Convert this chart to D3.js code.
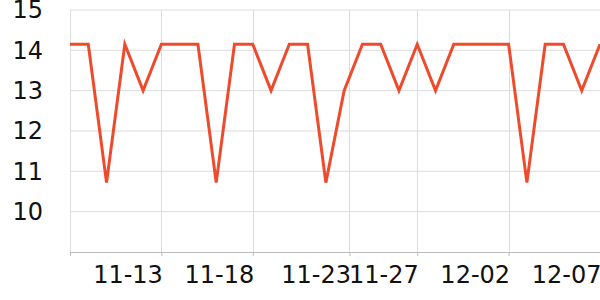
<!DOCTYPE html>
<html>
<head>
<meta charset="utf-8">
<script src="https://cdn.jsdelivr.net/npm/d3@7"></script>
<style>
  body { margin: 0; background: #fff; }
  svg { display: block; font-family: "DejaVu Sans", sans-serif; }
</style>
</head>
<body>
<div id="chart"></div>
<script>
var dates = ["2023-11-08", "2023-11-09", "2023-11-10", "2023-11-11", "2023-11-12",
             "2023-11-13", "2023-11-14", "2023-11-15", "2023-11-16", "2023-11-17",
             "2023-11-18", "2023-11-19", "2023-11-20", "2023-11-21", "2023-11-22",
             "2023-11-23", "2023-11-24", "2023-11-25", "2023-11-26", "2023-11-27",
             "2023-11-28", "2023-11-29", "2023-11-30", "2023-12-01", "2023-12-02",
             "2023-12-03", "2023-12-04", "2023-12-05", "2023-12-06", "2023-12-07"];
var values = [14.15, 14.15, 10.72, 14.15, 13.0, 14.15, 14.15, 14.15, 10.72, 14.15,
              14.15, 13.0, 14.15, 14.15, 10.72, 13.0, 14.15, 14.15, 13.0, 14.15,
              13.0, 14.15, 14.15, 14.15, 14.15, 10.72, 14.15, 14.15, 13.0, 14.15];
var xTicks = ["2023-11-13T00:00Z", "2023-11-18T00:00Z", "2023-11-23T07:00Z",
              "2023-11-27T00:00Z", "2023-12-02T00:00Z", "2023-12-07T00:00Z"];
var yTicks = [10, 11, 12, 13, 14, 15];

var margin = { top: 10, right: 0, bottom: 48, left: 70 },
    width = 600 - margin.left - margin.right,
    height = 300 - margin.top - margin.bottom;

var parseDate = d3.utcParse("%Y-%m-%d");
var data = dates.map(function (d, i) { return { date: parseDate(d), value: values[i] }; });

var svg = d3.select("#chart")
    .append("svg")
    .attr("width", 600)
    .attr("height", 300)
    .append("g")
    .attr("transform", "translate(" + margin.left + "," + margin.top + ")");

var x = d3.scaleUtc()
    .domain(d3.extent(data, function (d) { return d.date; }))
    .range([0, width]);

var y = d3.scaleLinear()
    .domain([9, 15])
    .range([height, 0]);

// horizontal grid
svg.append("g")
    .selectAll("line")
    .data(yTicks)
    .enter()
    .append("line")
    .attr("x1", 0)
    .attr("x2", width)
    .attr("y1", function (d) { return y(d); })
    .attr("y2", function (d) { return y(d); })
    .attr("stroke", "#dcdcdc")
    .attr("stroke-width", 1);

// vertical grid (left edge + ticks)
var tickDates = xTicks.map(function (d) { return d3.isoParse(d); });
svg.append("g")
    .selectAll("line")
    .data([x.domain()[0]].concat(tickDates))
    .enter()
    .append("line")
    .attr("x1", function (d) { return Math.round(x(d)) + 0.5; })
    .attr("x2", function (d) { return Math.round(x(d)) + 0.5; })
    .attr("y1", 0)
    .attr("y2", height)
    .attr("stroke", "#dcdcdc")
    .attr("stroke-width", 1);

// y labels
svg.append("g")
    .selectAll("text")
    .data(yTicks)
    .enter()
    .append("text")
    .attr("x", -27)
    .attr("y", function (d) { return y(d); })
    .attr("dy", "0.35em")
    .attr("text-anchor", "end")
    .attr("font-size", "24px")
    .attr("fill", "#111")
    .text(function (d) { return d; });

// x axis
var xAxis = svg.append("g")
    .attr("transform", "translate(0," + height + ")")
    .call(d3.axisBottom(x)
        .tickValues([x.domain()[0]].concat(tickDates))
        .tickSize(4)
        .tickFormat(function (d, i) { return i === 0 ? "" : d3.utcFormat("%m-%d")(d); }));
xAxis.select(".domain").attr("stroke", "#bdbdbd");
xAxis.selectAll(".tick line").attr("stroke", "#bdbdbd");
xAxis.selectAll(".tick text")
    .attr("text-anchor", "end")
    .attr("x", 1)
    .attr("y", 31)
    .attr("dy", 0)
    .attr("font-size", "24px")
    .attr("font-family", "DejaVu Sans, sans-serif")
    .attr("fill", "#111");

// line
var line = d3.line()
    .x(function (d) { return x(d.date); })
    .y(function (d) { return y(d.value); });

svg.append("path")
    .datum(data)
    .attr("fill", "none")
    .attr("stroke", "#ee4a2c")
    .attr("stroke-width", 3)
    .attr("stroke-linejoin", "miter")
    .attr("d", line);
</script>
</body>
</html>
